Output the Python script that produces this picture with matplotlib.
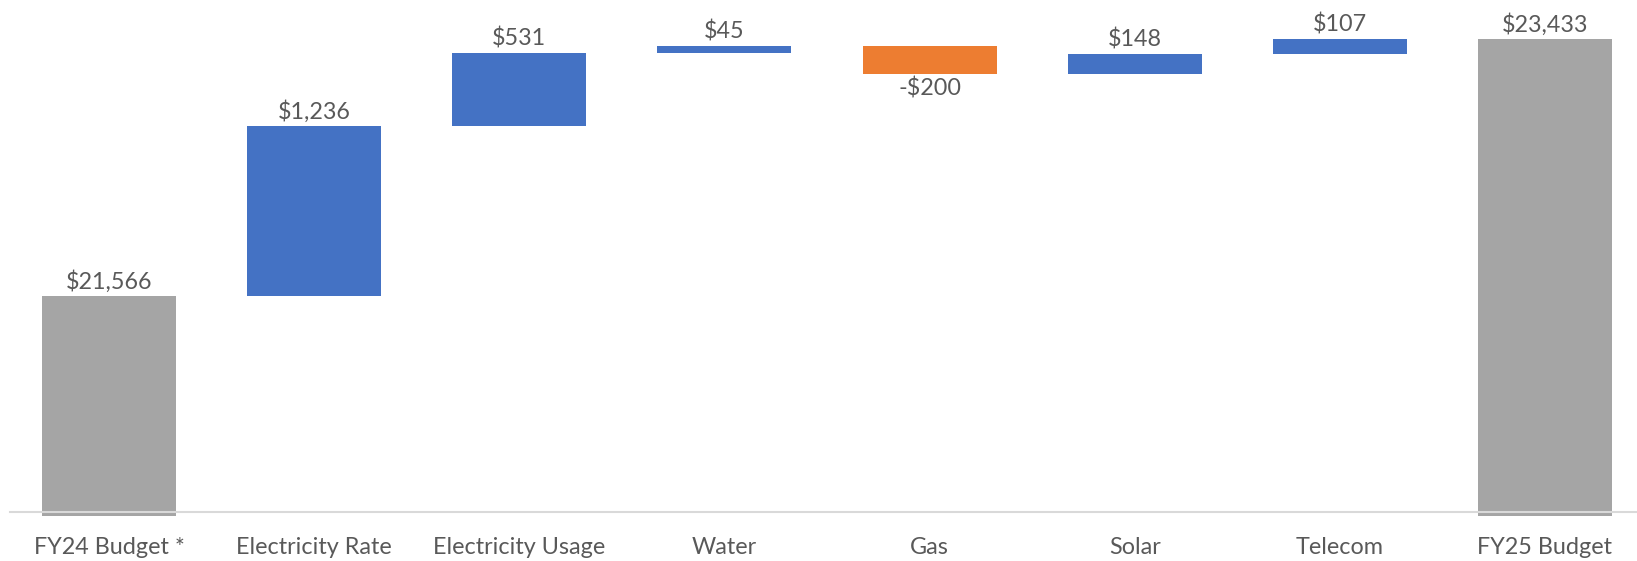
import matplotlib
matplotlib.use("Agg")
import matplotlib.pyplot as plt
import numpy as np

categories = ["FY24 Budget *", "Electricity Rate", "Electricity Usage", "Water",
              "Gas", "Solar", "Telecom", "FY25 Budget"]
changes = [21566, 1236, 531, 45, -200, 148, 107, 23433]
is_total = [True, False, False, False, False, False, False, True]

BLUE = "#4472C4"
ORANGE = "#ED7D31"
GRAY = "#A5A5A5"
TEXT = "#595959"

plt.rcParams['font.family'] = ['Lato', 'DejaVu Sans']

fig = plt.figure(figsize=(16.37, 5.61), dpi=100)
W, H = 1637, 561
# axes placement (pixels)
x_left, x_right = 6.5, 1647.5
y_base_px = 512
px_per_unit = 0.13782
ymin, ymax = 19970, 24000
ax_bottom_px = y_base_px + (20000 - ymin) * px_per_unit
ax_height_px = (ymax - ymin) * px_per_unit
ax = fig.add_axes([x_left / W, (H - ax_bottom_px) / H,
                   (x_right - x_left) / W, ax_height_px / H])
ax.set_xlim(-0.5, len(categories) - 0.5)
ax.set_ylim(ymin, ymax)

FS = 16.8
running = 0
width = 0.653
for i, (c, v, tot) in enumerate(zip(categories, changes, is_total)):
    if tot:
        bottom, height = 0, v
        color = GRAY
        running = v
        top = v
    else:
        if v >= 0:
            bottom, height = running, v
            color = BLUE
        else:
            bottom, height = running + v, -v
            color = ORANGE
        running += v
        top = max(running, running - v)
    ax.bar(i, height, bottom=bottom, width=width, color=color, zorder=2)
    label = f"${v:,}" if v >= 0 else f"-${-v:,}"
    if v >= 0:
        ax.annotate(label, (i, top), xytext=(0, 2.5), textcoords="offset points",
                    ha="center", va="bottom", fontsize=FS, color=TEXT)
    else:
        ax.annotate(label, (i, bottom), xytext=(0, -2.5), textcoords="offset points",
                    ha="center", va="top", fontsize=FS, color=TEXT)

ax.axhline(20000, xmin=(10 - x_left) / (x_right - x_left), xmax=1,
           color="#D9D9D9", linewidth=1.5, zorder=3)

for s in ax.spines.values():
    s.set_visible(False)
ax.set_yticks([])
ax.set_xticks(range(len(categories)))
ax.set_xticklabels(categories, fontsize=FS, color=TEXT)
ax.tick_params(axis="x", length=0, pad=15)

fig.savefig("out.png", dpi=100)
